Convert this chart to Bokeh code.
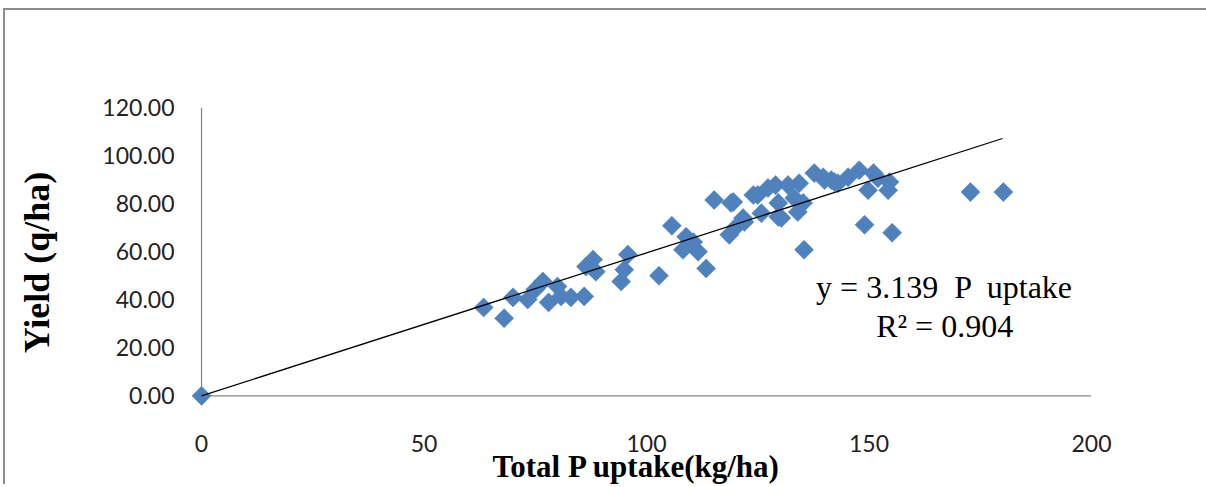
import numpy as np
from bokeh.plotting import figure
from bokeh.models import Range1d, LinearAxis, FixedTicker, NumeralTickFormatter
from bokeh.embed import file_html
from bokeh.resources import INLINE
from bokeh.core.properties import value

# ---- data ----
p_uptake = [0, 63.4, 68.0, 70.0, 73.3, 75.0, 76.7, 78.0, 80.0, 80.8, 83.0, 86.0,
            86.4, 88.0, 88.6, 94.3, 95.0, 95.8, 102.8, 105.7, 108.9, 108.2, 110.5,
            111.6, 113.4, 115.2, 119.0, 118.6, 120.1, 121.7, 125.0, 127.3, 125.8,
            129.6, 129.6, 119.5, 122.0, 124.0, 129.0, 130.3, 131.8, 133.2, 134.0,
            135.2, 135.4, 134.3, 137.7, 139.7, 141.5, 143.0, 140.0, 142.2, 145.3,
            147.8, 151.0, 152.0, 149.8, 154.6, 154.3, 149.0, 155.2, 172.8, 180.2]
yield_q = [0, 36.8, 32.3, 41.0, 40.1, 44.3, 47.6, 38.9, 45.5, 41.4, 41.0, 41.4,
           53.8, 56.7, 51.7, 47.6, 52.5, 58.8, 50.0, 70.8, 66.2, 60.8, 64.0,
           60.0, 53.0, 81.5, 80.3, 67.0, 70.3, 74.0, 83.6, 86.5, 76.0,
           80.3, 74.5, 80.7, 72.4, 83.6, 87.7, 74.0, 87.7, 82.3, 76.5,
           80.3, 60.8, 88.5, 92.7, 91.0, 89.8, 88.5, 89.8, 89.0, 91.0,
           93.9, 92.7, 90.6, 85.6, 89.0, 85.6, 71.2, 67.9, 84.8, 84.8]
trend_x = [0, 180]
trend_y = [0, 107.1]
x_ticks = [0, 50, 100, 150, 200]
y_ticks = [0, 20, 40, 60, 80, 100, 120]
eq_lines = ["y = 3.139 \u00a0P \u00a0uptake", "R\u00b2 = 0.904"]
eq_x = [167, 167]
eq_y = [45.5, 29.0]

AXIS_GRAY = "#868686"
BLUE = "#4F81BD"

p = figure(width=1203, height=476,
           x_range=Range1d(-4.5, 200), y_range=Range1d(-9, 120),
           output_backend="svg", toolbar_location=None,
           x_axis_location=None, y_axis_location=None,
           min_border_left=176, min_border_right=117,
           min_border_top=97, min_border_bottom=67)
p.margin = (8, 0, 0, 3)
p.styles = {"border-top": "2px solid #8c8c8c", "border-left": "2px solid #8c8c8c"}
p.grid.visible = False
p.outline_line_color = None
p.background_fill_color = "white"
p.border_fill_color = "white"

xaxis = LinearAxis(ticker=FixedTicker(ticks=x_ticks), axis_label="Total P uptake(kg/ha)")
yaxis = LinearAxis(ticker=FixedTicker(ticks=y_ticks), axis_label="Yield (q/ha)",
                   formatter=NumeralTickFormatter(format="0.00"))
for ax in (xaxis, yaxis):
    ax.axis_line_color = None
    ax.major_tick_line_color = None
    ax.minor_tick_line_color = None
    ax.major_label_text_font = "Lato"
    ax.major_label_text_font_size = "23px"
    ax.major_label_text_color = "#222222"
    ax.axis_label_text_font = "Liberation Serif"
    ax.axis_label_text_font_style = "bold"
    ax.axis_label_text_color = "black"
xaxis.major_label_standoff = 11
xaxis.axis_label_standoff = -6
xaxis.axis_label_text_font_size = "31px"
yaxis.major_label_standoff = 1
yaxis.axis_label_standoff = 42
yaxis.axis_label_text_font_size = "36px"
p.add_layout(xaxis, "below")
p.add_layout(yaxis, "left")

# axis lines at zero
p.segment(x0=[x_ticks[0], x_ticks[0]], y0=[y_ticks[0], y_ticks[0]],
          x1=[x_ticks[-1], x_ticks[0]], y1=[y_ticks[0], y_ticks[-1]],
          line_color=AXIS_GRAY, line_width=1.2)

p.scatter(p_uptake, yield_q, marker="square", angle=np.pi / 4, size=13.5,
          fill_color=BLUE, line_color=BLUE, line_width=0.5)
p.line(trend_x, trend_y, line_color="black", line_width=1.3)

p.text(x=eq_x, y=eq_y, text=eq_lines, text_font=value("Liberation Serif"),
       text_font_size="32px", text_align="center", text_baseline="middle",
       text_color="black")

open("out.html", "w").write(file_html(p, INLINE))
